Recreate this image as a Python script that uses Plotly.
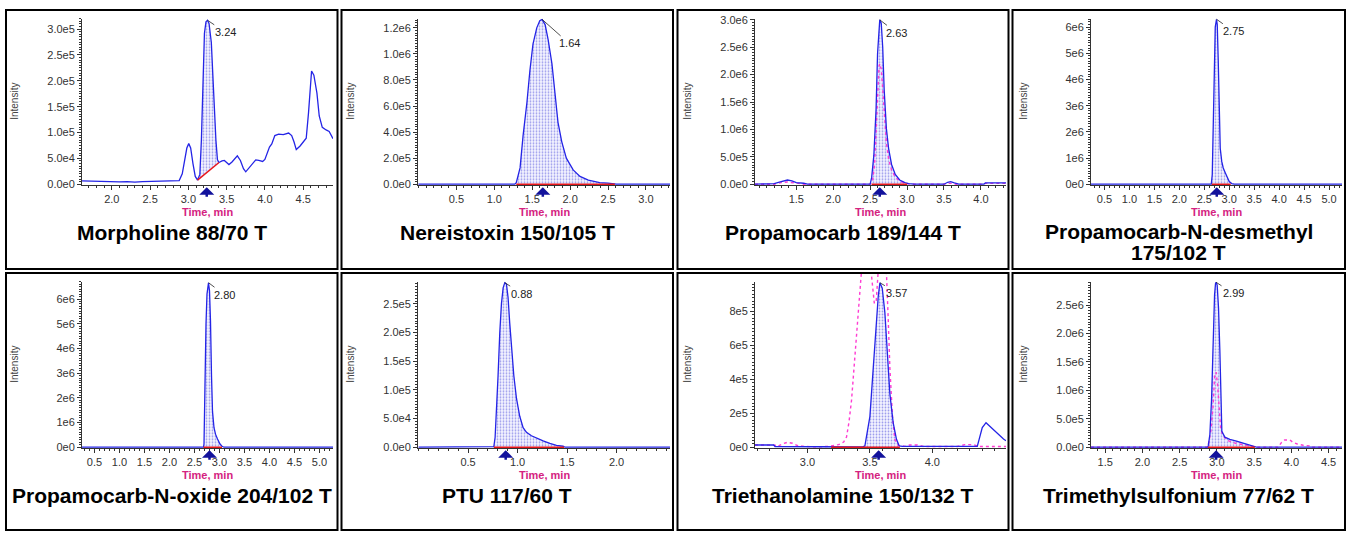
import numpy as np
import plotly.graph_objects as go

W, H = 1351, 536

# ---------------- data ----------------
titles = ["Morpholine 88/70 T", "Nereistoxin 150/105 T", "Propamocarb 189/144 T",
          "Propamocarb-N-desmethyl\n175/102 T", "Propamocarb-N-oxide 204/102 T",
          "PTU 117/60 T", "Triethanolamine 150/132 T", "Trimethylsulfonium 77/62 T"]
rt_labels = ["3.24", "1.64", "2.63", "2.75", "2.80", "0.88", "3.57", "2.99"]

# Morpholine 88/70
t1 = [1.61, 1.70, 1.80, 1.90, 2.00, 2.10, 2.20, 2.30, 2.40, 2.50, 2.60, 2.70, 2.80, 2.88, 2.92,
      2.95, 2.98, 3.005, 3.03, 3.06, 3.09, 3.12, 3.15, 3.17, 3.19, 3.21, 3.23, 3.25, 3.27, 3.30,
      3.32, 3.34, 3.36, 3.38, 3.40, 3.44, 3.47, 3.50, 3.53, 3.57, 3.61, 3.64, 3.68, 3.72, 3.75,
      3.78, 3.81, 3.85, 3.88, 3.92, 3.97, 4.00, 4.03, 4.06, 4.09, 4.13, 4.18, 4.24, 4.31, 4.35,
      4.38, 4.41, 4.46, 4.51, 4.54, 4.57, 4.60, 4.61, 4.64, 4.68, 4.71, 4.75, 4.80, 4.84, 4.89]
i1 = [6.5e3, 6.0e3, 6.2e3, 5.5e3, 5.0e3, 4.5e3, 5.0e3, 4.0e3, 5.0e3, 5.5e3, 6.0e3, 6.5e3, 6.5e3, 7.0e3, 2.0e4,
      4.5e4, 7.0e4, 7.85e4, 7.0e4, 4.0e4, 1.5e4, 8.0e3, 1.9e4, 8.5e4, 2.1e5, 2.92e5, 3.14e5, 3.17e5, 3.11e5, 2.74e5,
      2.1e5, 1.42e5, 8.5e4, 4.7e4, 4.2e4, 4.5e4, 4.6e4, 4.2e4, 3.8e4, 4.3e4, 5.0e4, 5.5e4, 4.6e4, 3.0e4, 2.4e4,
      2.9e4, 3.4e4, 4.2e4, 4.7e4, 4.6e4, 4.4e4, 4.8e4, 6.0e4, 7.2e4, 7.8e4, 9.4e4, 9.7e4, 9.6e4, 9.9e4, 9.4e4,
      8.2e4, 6.7e4, 7.4e4, 8.3e4, 8.9e4, 1.38e5, 2.08e5, 2.19e5, 2.11e5, 1.76e5, 1.32e5, 1.10e5, 1.05e5, 1.02e5, 8.8e4]

# Nereistoxin 150/105
t2 = [0.0, 1.27, 1.29, 1.34, 1.38, 1.43, 1.47, 1.51, 1.56, 1.60, 1.63, 1.67, 1.71, 1.76, 1.80,
      1.84, 1.89, 1.95, 2.04, 2.13, 2.24, 2.39, 2.50, 2.59, 2.61, 3.317]
i2 = [0, 0, 1.2e4, 1.25e5, 3.75e5, 6.25e5, 8.75e5, 1.075e6, 1.2e6, 1.255e6, 1.265e6, 1.225e6, 1.11e6, 9.25e5, 7.0e5,
      4.75e5, 3.25e5, 2.0e5, 1.1e5, 6.0e4, 3.2e4, 1.2e4, 8e3, 6e3, 0, 0]

# Propamocarb 189/144
t3 = [0.94, 1.20, 1.27, 1.33, 1.38, 1.44, 1.50, 1.60, 1.65, 2.50, 2.52, 2.55, 2.58, 2.60, 2.62,
      2.63, 2.65, 2.67, 2.69, 2.72, 2.75, 2.79, 2.84, 2.90, 2.97, 3.02, 3.10, 3.50, 3.55, 3.59,
      3.64, 3.70, 4.04, 4.06, 4.34]
i3 = [0, 1.2e4, 4e4, 6.5e4, 7.7e4, 6e4, 3e4, 1.8e4, 0, 0, 1.2e5, 5.3e5, 1.37e6, 2.38e6, 2.91e6,
      3.0e6, 2.94e6, 2.5e6, 1.72e6, 1.01e6, 6.5e5, 3.6e5, 1.8e5, 7.7e4, 3e4, 1.2e4, 0, 0, 3.6e4, 4.8e4,
      2.4e4, 0, 0, 2.4e4, 2.4e4]
t3_conf = [0.94, 1.20, 1.30, 1.38, 1.50, 1.60, 2.50, 2.53, 2.56, 2.58, 2.60, 2.62, 2.63, 2.65, 2.67,
           2.69, 2.72, 2.75, 2.79, 2.84, 2.90, 2.97, 3.05, 3.50, 3.55, 3.62, 3.66, 4.04, 4.06, 4.34]
i3_conf = [0, 0, 3e4, 4e4, 2e4, 0, 0, 5e4, 3.5e5, 9e5, 1.7e6, 2.15e6, 2.2e6, 2.1e6, 1.75e6,
           1.25e6, 7.5e5, 4.6e5, 2.6e5, 1.3e5, 5.5e4, 2e4, 0, 0, 1.5e4, 1.5e4, 0, 0, 1.5e4, 1.5e4]

# Propamocarb-N-desmethyl 175/102
t4 = [0.23, 2.64, 2.66, 2.68, 2.70, 2.72, 2.745, 2.76, 2.78, 2.80, 2.82, 2.85, 2.88, 2.92, 2.96,
      3.00, 3.05, 3.10, 5.26]
i4 = [0, 0, 3.7e5, 2.6e6, 4.7e6, 6.0e6, 6.3e6, 6.1e6, 4.7e6, 2.6e6, 1.37e6, 8.7e5, 6.2e5, 4.4e5, 2.5e5,
      1.0e5, 2.5e4, 0, 0]

# Propamocarb-N-oxide 204/102
t5 = [0.25, 2.68, 2.69, 2.71, 2.73, 2.75, 2.77, 2.78, 2.80, 2.82, 2.84, 2.86, 2.89, 2.92, 2.96,
      3.01, 3.05, 3.09, 5.27]
i5 = [0, 0, 1.3e5, 2.9e6, 5.0e6, 6.2e6, 6.64e6, 6.66e6, 6.33e6, 5.1e6, 2.9e6, 1.45e6, 7.9e5, 5.3e5, 3.3e5,
      1.3e5, 4e4, 0, 0]

# PTU 117/60
t6 = [0.0, 0.76, 0.773, 0.787, 0.803, 0.82, 0.837, 0.854, 0.871, 0.888, 0.904, 0.921, 0.938, 0.962, 0.989,
      1.022, 1.056, 1.09, 1.14, 1.19, 1.258, 1.326, 1.393, 1.46, 1.48, 2.54]
i6 = [0, 1e3, 1.7e4, 6.25e4, 1.25e5, 1.99e5, 2.5e5, 2.78e5, 2.87e5, 2.84e5, 2.61e5, 2.16e5, 1.7e5, 1.25e5, 8.5e4,
      5.4e4, 3.4e4, 2.6e4, 2.0e4, 1.6e4, 1.1e4, 6.8e3, 3.4e3, 1.7e3, 0, 0]

# Triethanolamine 150/132
t7 = [2.58, 2.73, 2.74, 3.05, 3.10, 3.44, 3.46, 3.50, 3.527, 3.548, 3.567, 3.58, 3.599, 3.62, 3.639,
      3.66, 3.687, 3.713, 3.735, 3.76, 4.36, 4.38, 4.40, 4.43, 4.45, 4.48, 4.51, 4.54, 4.57, 4.59]
i7 = [1.3e4, 1.3e4, 4e3, 4e3, 1e3, 1e3, 7.7e3, 1.8e5, 4.67e5, 6.97e5, 8.88e5, 9.68e5, 9.36e5, 7.92e5, 5.63e5,
      3.14e5, 1.42e5, 4.6e4, 7.7e3, 5e3, 5e3, 5.7e4, 1.15e5, 1.44e5, 1.3e5, 1.05e5, 8.6e4, 6.7e4, 4.8e4, 3.8e4]
t7_conf = [2.58, 2.74, 2.76, 2.80, 2.84, 2.88, 2.92, 2.98, 3.10, 3.17, 3.25, 3.29, 3.313, 3.333, 3.353,
           3.372, 3.393, 3.415, 3.433, 3.46, 3.49, 3.513, 3.535, 3.55, 3.568, 3.59, 3.61, 3.633, 3.647, 3.66,
           3.681, 3.70, 3.727, 3.78, 3.82, 3.88, 3.93, 4.20, 4.26, 4.33, 4.37, 4.59]
i7_conf = [1.3e4, 1.2e4, 4e3, 1.9e4, 2.9e4, 2.3e4, 9.6e3, 4e3, 2e3, 5e3, 1.5e4, 3e4, 6e4, 1.5e5, 2.76e5,
           4.67e5, 6.58e5, 8.5e5, 1.04e6, 1.25e6, 1.3e6, 1.01e6, 8.5e5, 8.5e5, 1.02e6, 1.3e6, 1.25e6, 1.02e6, 7.5e5, 4.67e5,
           1.8e5, 4.6e4, 1.1e4, 5e3, 1.3e4, 1.3e4, 4e3, 4e3, 1.5e4, 1.5e4, 4e3, 4e3]

# Trimethylsulfonium 77/62
t8 = [1.31, 2.88, 2.884, 2.906, 2.929, 2.942, 2.955, 2.969, 2.982, 2.99, 3.004, 3.022, 3.04, 3.054, 3.067,
      3.107, 3.174, 3.263, 3.33, 3.397, 3.464, 3.509, 3.53, 4.68]
i8 = [0, 0, 2.3e4, 2.23e5, 8.5e5, 1.6e6, 2.28e6, 2.68e6, 2.88e6, 2.9e6, 2.85e6, 2.45e6, 1.71e6, 7.4e5, 2.8e5,
      1.77e5, 1.37e5, 1.09e5, 8e4, 5.1e4, 2.3e4, 1.1e4, 0, 0]
t8_conf = [1.31, 2.88, 2.92, 2.95, 2.97, 2.99, 3.01, 3.03, 3.05, 3.08, 3.15, 3.25, 3.35, 3.45, 3.55,
           3.82, 3.87, 3.91, 3.98, 4.02, 4.08, 4.16, 4.25, 4.27, 4.68]
i8_conf = [0, 0, 2.9e5, 7.4e5, 1.26e6, 1.32e6, 1.09e6, 6.9e5, 3.4e5, 2.0e5, 1.14e5, 6.9e4, 4.6e4, 2.3e4, 0,
           0, 8.6e4, 1.26e5, 1.3e5, 8.6e4, 5.7e4, 3.4e4, 2.3e4, 0, 0]

# integration windows (start, end) and baseline intensities at those ends
integ_start = [3.12, 1.29, 2.52, 2.65, 2.68, 0.76, 3.19, 2.88]
integ_end = [3.40, 2.59, 3.00, 3.03, 3.05, 1.47, 3.74, 3.51]
base_start = [8.0e3, 0, 0, 0, 0, 0, 0, 0]
base_end = [4.2e4, 0, 0, 0, 0, 0, 0, 0]

# axes
x_ranges = [[1.61, 4.89], [-0.006, 3.317], [0.94, 4.34], [0.23, 5.26],
            [0.25, 5.27], [-0.006, 2.54], [2.58, 4.59], [1.31, 4.68]]
x_ticks = [[2.0, 2.5, 3.0, 3.5, 4.0, 4.5], [0.5, 1.0, 1.5, 2.0, 2.5, 3.0], [1.5, 2.0, 2.5, 3.0, 3.5, 4.0],
           [0.5, 1.0, 1.5, 2.0, 2.5, 3.0, 3.5, 4.0, 4.5, 5.0], [0.5, 1.0, 1.5, 2.0, 2.5, 3.0, 3.5, 4.0, 4.5, 5.0],
           [0.5, 1.0, 1.5, 2.0], [3.0, 3.5, 4.0], [1.5, 2.0, 2.5, 3.0, 3.5, 4.0, 4.5]]
y_tops = [3.2e5, 1.27e6, 3.02e6, 6.32e6, 6.7e6, 2.886e5, 9.74e5, 2.91e6]
y_tick_vals = [[0, 5e4, 1e5, 1.5e5, 2e5, 2.5e5, 3e5], [0, 2e5, 4e5, 6e5, 8e5, 1e6, 1.2e6],
               [0, 5e5, 1e6, 1.5e6, 2e6, 2.5e6, 3e6], [0, 1e6, 2e6, 3e6, 4e6, 5e6, 6e6],
               [0, 1e6, 2e6, 3e6, 4e6, 5e6, 6e6], [0, 5e4, 1e5, 1.5e5, 2e5, 2.5e5],
               [0, 2e5, 4e5, 6e5, 8e5], [0, 5e5, 1e6, 1.5e6, 2e6, 2.5e6]]
y_tick_text = [["0.0e0", "5.0e4", "1.0e5", "1.5e5", "2.0e5", "2.5e5", "3.0e5"],
               ["0.0e0", "2.0e5", "4.0e5", "6.0e5", "8.0e5", "1.0e6", "1.2e6"],
               ["0.0e0", "5.0e5", "1.0e6", "1.5e6", "2.0e6", "2.5e6", "3.0e6"],
               ["0e0", "1e6", "2e6", "3e6", "4e6", "5e6", "6e6"],
               ["0e0", "1e6", "2e6", "3e6", "4e6", "5e6", "6e6"],
               ["0.0e0", "5.0e4", "1.0e5", "1.5e5", "2.0e5", "2.5e5"],
               ["0e0", "2e5", "4e5", "6e5", "8e5"],
               ["0.0e0", "5.0e5", "1.0e6", "1.5e6", "2.0e6", "2.5e6"]]

times = [t1, t2, t3, t4, t5, t6, t7, t8]
intens = [i1, i2, i3, i4, i5, i6, i7, i8]
confirm = {2: (t3_conf, i3_conf), 6: (t7_conf, i7_conf), 7: (t8_conf, i8_conf)}

# ---------------- layout geometry (pixels) ----------------
cols_plot = [(82, 333), (418, 670), (755, 1006), (1091, 1342)]
rows_plot = [(14, 183.3), (282, 451.3)]
cols_frame = [(6, 337.5), (341.5, 673), (677.5, 1008.5), (1012.5, 1345)]
rows_frame = [(5, 269), (273, 535)]
title_y = [231.5, 500]
title_line_gap = 22
xlabel_y = [211, 479]
label_dx = [18, 27, 17, 17, 16, 17, 17, 17]
label_dy = [12, 24, 13, 12, 12, 11, 10, 11]

FONT = "Liberation Sans, Arial, Helvetica, sans-serif"
BLUE = "#2424e6"
PINK = "#ff3cd2"
RED = "#e8161b"
AX = "#333333"


def fx(p):
    return p / W


def fy(p):
    return 1 - p / H


fig = go.Figure()
layout = dict(width=W, height=H, margin=dict(l=0, r=0, t=0, b=0),
              paper_bgcolor="white", plot_bgcolor="rgba(0,0,0,0)", showlegend=False)
annotations = []
shapes = []

for k in range(8):
    r, c = divmod(k, 4)
    px0, px1 = cols_plot[c]
    py0, py1 = rows_plot[r]
    sfx = "" if k == 0 else str(k + 1)
    ytop = y_tops[k]
    ybot = -0.004 * ytop
    layout["xaxis" + sfx] = dict(
        domain=[fx(px0), fx(px1)], anchor="y" + sfx, range=x_ranges[k],
        tickmode="array", tickvals=x_ticks[k], ticktext=[f"{v:.1f}" for v in x_ticks[k]],
        ticks="outside", ticklen=4, tickcolor=AX, tickwidth=1,
        showline=True, linecolor=AX, linewidth=1, showgrid=False, zeroline=False,
        layer="below traces",
        tickfont=dict(family=FONT, size=11, color=AX),
        minor=dict(ticks="outside", ticklen=2, dtick=0.1, tick0=0, tickcolor=AX, showgrid=False),
        fixedrange=True)
    ystep = y_tick_vals[k][1]
    layout["yaxis" + sfx] = dict(
        domain=[fy(py1), fy(py0)], anchor="x" + sfx, range=[ybot, ytop],
        tickmode="array", tickvals=y_tick_vals[k], ticktext=y_tick_text[k],
        ticks="outside", ticklen=4, tickcolor=AX, tickwidth=1,
        showline=True, linecolor=AX, linewidth=1, showgrid=False, zeroline=False,
        layer="below traces",
        tickfont=dict(family=FONT, size=11, color=AX),
        minor=dict(ticks="outside", ticklen=2, dtick=ystep / 10, tick0=0, tickcolor=AX, showgrid=False),
        fixedrange=True)

    # data axes: panel 7 uses an extended (invisible) axis so the reference trace can overrun the top
    if k == 6:
        ext_top = rows_frame[1][0] + 1
        scale = (py1 - ext_top) / (py1 - py0)
        layout["xaxis9"] = dict(domain=[fx(px0), fx(px1)], anchor="y9", range=x_ranges[k],
                                visible=False, fixedrange=True)
        layout["yaxis9"] = dict(domain=[fy(py1), fy(ext_top)], anchor="x9",
                                range=[ybot * scale, ytop * scale], visible=False, fixedrange=True)
        dxa, dya = "x9", "y9"
    else:
        dxa, dya = "x" + sfx, "y" + sfx

    t = np.array(times[k], dtype=float)
    y = np.array(intens[k], dtype=float)
    s, e = integ_start[k], integ_end[k]

    # integration baseline (invisible, fill reference)
    fig.add_trace(go.Scatter(x=[s, e], y=[base_start[k], base_end[k]], mode="lines",
                             line=dict(width=0, color=RED), xaxis=dxa, yaxis=dya, hoverinfo="skip"))
    mask = (t > s) & (t < e)
    seg_t = np.concatenate([[s], t[mask], [e]])
    seg_y = np.concatenate([[np.interp(s, t, y)], y[mask], [np.interp(e, t, y)]])
    fig.add_trace(go.Scatter(x=seg_t, y=seg_y, mode="lines", fill="tonexty",
                             fillcolor="rgba(246,246,255,1)",
                             fillpattern=dict(shape=".", fgcolor="#3a3ad8", bgcolor="rgba(246,246,255,1)",
                                              size=3, solidity=0.3, fillmode="overlay"),
                             line=dict(width=0, color=BLUE), xaxis=dxa, yaxis=dya, hoverinfo="skip"))
    # confirming ion trace (dotted)
    if k in confirm:
        ct, ci = confirm[k]
        fig.add_trace(go.Scatter(x=ct, y=ci, mode="lines", line=dict(color=PINK, width=1.4, dash="dot"),
                                 xaxis=dxa, yaxis=dya, hoverinfo="skip"))
    # main trace
    fig.add_trace(go.Scatter(x=t, y=y, mode="lines", line=dict(color=BLUE, width=1.3),
                             xaxis=dxa, yaxis=dya, hoverinfo="skip"))
    # red baseline
    fig.add_trace(go.Scatter(x=[s, e], y=[base_start[k], base_end[k]], mode="lines",
                             line=dict(color=RED, width=1.5), xaxis=dxa, yaxis=dya, hoverinfo="skip"))

    # apex label
    imax = int(np.argmax(y))
    annotations.append(dict(x=t[imax], y=y[imax], xref="x" + sfx, yref="y" + sfx, text=rt_labels[k],
                            showarrow=True, arrowhead=0, arrowwidth=0.8, arrowcolor="#222",
                            ax=label_dx[k], ay=label_dy[k], standoff=0, startstandoff=0,
                            font=dict(family=FONT, size=11, color="#222")))
    # retention time arrow
    annotations.append(dict(x=float(rt_labels[k]), y=0, xref="x" + sfx, yref="y" + sfx, text="",
                            showarrow=True, arrowhead=1, arrowsize=1, arrowwidth=2.5, arrowcolor="#12129c",
                            ax=0, ay=11, yshift=-3))
    # axis titles
    annotations.append(dict(x=fx(px0 - 67), y=fy((py0 + py1) / 2), xref="paper", yref="paper",
                            xanchor="center", yanchor="middle",
                            text="Intensity", textangle=-90, showarrow=False,
                            font=dict(family=FONT, size=10, color="#444")))
    annotations.append(dict(x=fx((px0 + px1) / 2), y=fy(xlabel_y[r]), xref="paper", yref="paper",
                            xanchor="center", yanchor="middle",
                            text="Time, min", showarrow=False,
                            font=dict(family=FONT, size=11, color="#d4237f", weight="bold")))
    # panel title
    fx0, fx1 = cols_frame[c]
    lines = titles[k].split("\n")
    for j, line in enumerate(lines):
        ty = title_y[r] + title_line_gap * j - (1 if len(lines) > 1 else 0)
        annotations.append(dict(x=fx((fx0 + fx1) / 2), y=fy(ty), xref="paper", yref="paper",
                                text=line, showarrow=False, xanchor="center", yanchor="middle",
                                font=dict(family=FONT, size=21, color="black", weight="bold")))
    # frame
    fy0, fy1 = rows_frame[r]
    shapes.append(dict(type="rect", xref="paper", yref="paper", x0=fx(fx0), x1=fx(fx1),
                       y0=fy(fy1), y1=fy(fy0), line=dict(color="black", width=2)))

layout["annotations"] = annotations
layout["shapes"] = shapes
fig.update_layout(**layout)
fig.write_html("out.html", config={"displayModeBar": False},
               post_script="document.body.style.margin='0';document.body.style.padding='0';"
                           "document.body.style.overflow='hidden';")
